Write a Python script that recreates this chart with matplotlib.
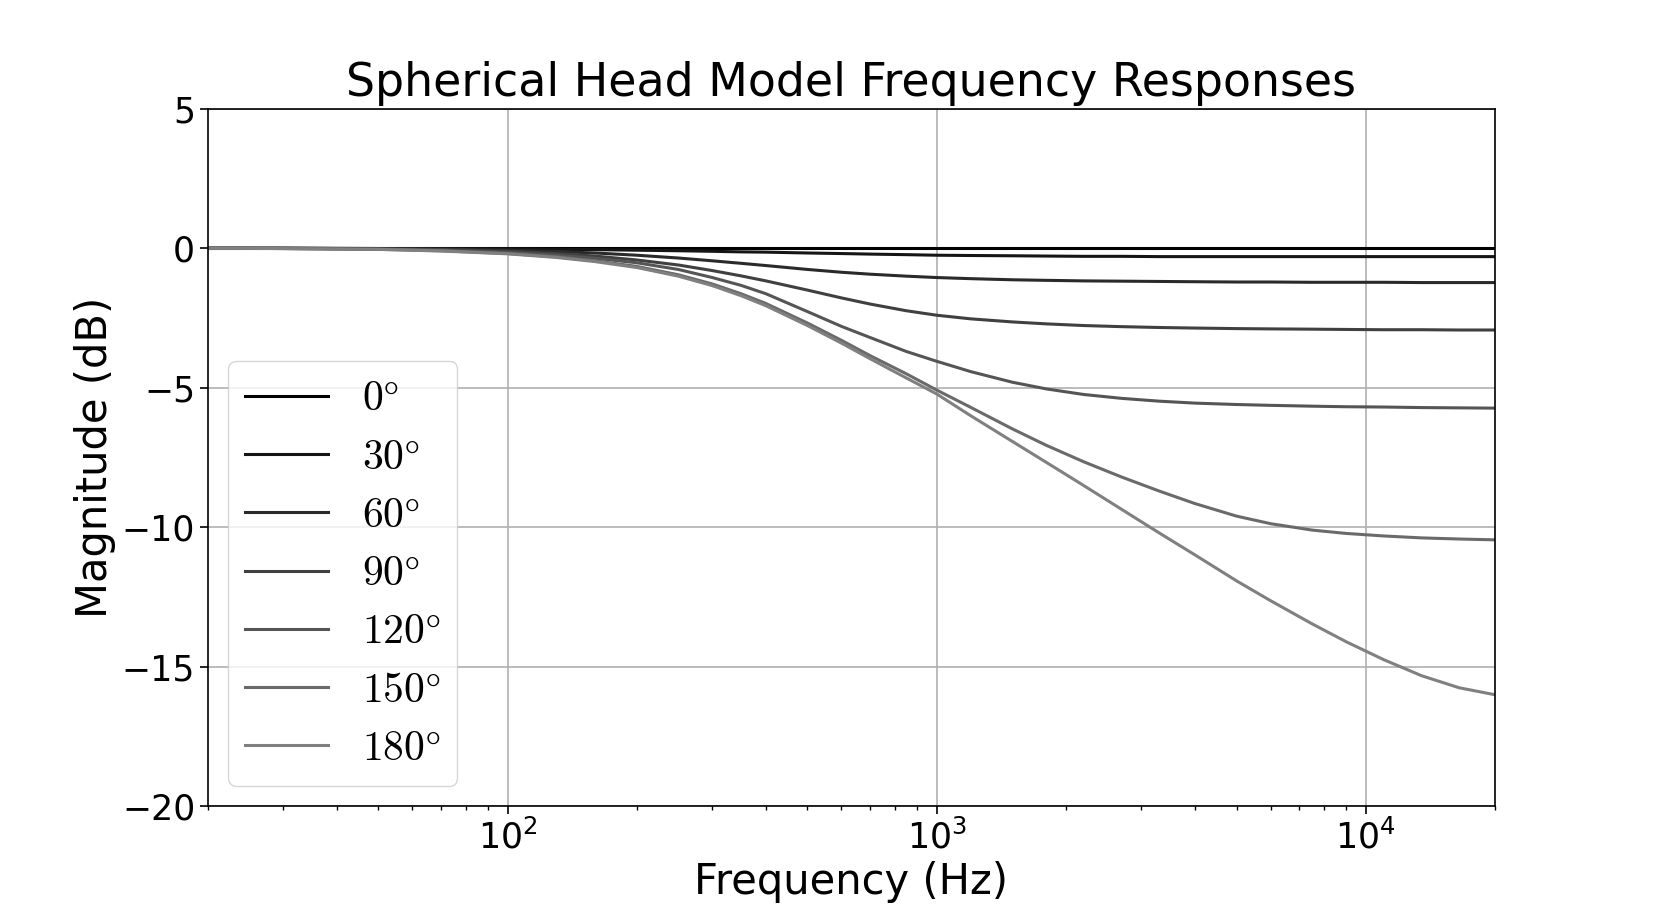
import numpy as np
import matplotlib.pyplot as plt

freqs = [20, 30, 50, 70, 100, 130, 160, 200, 250, 300, 350, 400, 500, 600, 700,
         850, 1000, 1200, 1500, 1800, 2200, 2700, 3300, 4000, 5000, 6000, 7500,
         9000, 11000, 13500, 16500, 20000]

angles = [0, 30, 60, 90, 120, 150, 180]

# magnitude (dB) for each angle
mag_0 = [0.0] * 32
mag_30 = [0, 0, -0.01, -0.01, -0.02, -0.04, -0.05, -0.07, -0.09, -0.11, -0.13,
          -0.14, -0.17, -0.19, -0.21, -0.23, -0.25, -0.26, -0.27, -0.28, -0.29,
          -0.29, -0.3, -0.3, -0.3, -0.3, -0.3, -0.3, -0.3, -0.3, -0.3, -0.3]
mag_60 = [0, 0, -0.01, -0.03, -0.07, -0.12, -0.17, -0.25, -0.35, -0.45, -0.54,
          -0.62, -0.76, -0.86, -0.93, -1.0, -1.05, -1.09, -1.13, -1.15, -1.17,
          -1.18, -1.19, -1.2, -1.21, -1.21, -1.22, -1.22, -1.22, -1.23, -1.23, -1.23]
mag_90 = [0, 0, -0.02, -0.05, -0.11, -0.19, -0.28, -0.42, -0.6, -0.8, -0.99,
          -1.17, -1.5, -1.78, -2.0, -2.24, -2.4, -2.53, -2.64, -2.71, -2.77,
          -2.81, -2.84, -2.86, -2.88, -2.89, -2.9, -2.91, -2.92, -2.92, -2.93, -2.93]
mag_120 = [0, -0.01, -0.03, -0.07, -0.15, -0.25, -0.36, -0.52, -0.76, -1.05, -1.33,
           -1.63, -2.27, -2.8, -3.2, -3.7, -4.05, -4.42, -4.8, -5.04, -5.24,
           -5.38, -5.48, -5.55, -5.6, -5.63, -5.66, -5.68, -5.69, -5.71, -5.72, -5.73]
mag_150 = [0, -0.01, -0.04, -0.09, -0.19, -0.31, -0.45, -0.65, -0.95, -1.28, -1.63,
           -1.98, -2.68, -3.3, -3.85, -4.5, -5.08, -5.7, -6.47, -7.06, -7.65,
           -8.2, -8.7, -9.15, -9.6, -9.87, -10.1, -10.22, -10.31, -10.38, -10.42, -10.45]
mag_180 = [0, -0.01, -0.04, -0.1, -0.2, -0.33, -0.48, -0.69, -1.0, -1.34, -1.7,
           -2.06, -2.77, -3.4, -3.96, -4.65, -5.22, -6.0, -6.92, -7.67, -8.5,
           -9.36, -10.2, -10.99, -11.92, -12.63, -13.46, -14.1, -14.74, -15.32,
           -15.75, -16.0]

mags = [mag_0, mag_30, mag_60, mag_90, mag_120, mag_150, mag_180]

plt.rcParams['mathtext.fontset'] = 'cm'

fig, ax = plt.subplots(figsize=(16.61, 9.06), dpi=100)

# 灰度颜色，从黑到中灰
colors = plt.cm.gray(np.linspace(0, 0.5, len(angles)))

for ang, mag, c in zip(angles, mags, colors):
    ax.semilogx(freqs, mag, color=c, lw=2.2, label=r'$%d\degree$' % ang)

ax.set_xlim(20, 20000)
ax.set_ylim(-20, 5)
ax.grid(True, which='major', color='#b0b0b0', lw=1.2)

ax.set_title('Spherical Head Model Frequency Responses', fontsize=33, pad=9)
ax.set_xlabel('Frequency (Hz)', fontsize=30)
ax.set_ylabel('Magnitude (dB)', fontsize=30)

ax.tick_params(which='major', labelsize=25, length=5.5, width=1.2)
ax.tick_params(which='minor', length=3, width=1.0)
for sp in ax.spines.values():
    sp.set_linewidth(1.2)

ax.legend(loc='lower left', fontsize=30, labelspacing=0.39)

fig.savefig('out.png', dpi=100)
